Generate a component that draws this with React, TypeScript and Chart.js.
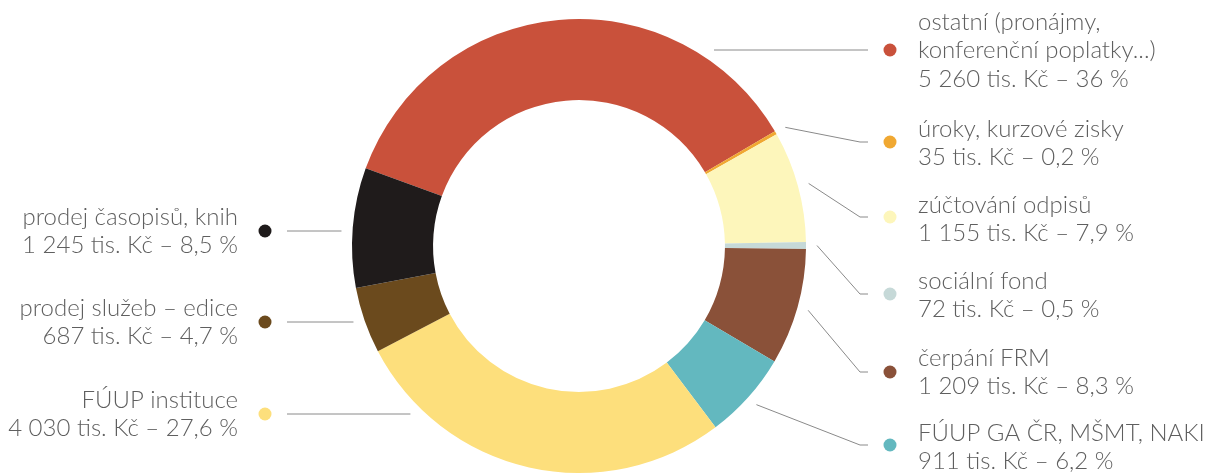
import React, { useEffect, useRef } from "react";
import { Chart, registerables } from "chart.js";

Chart.register(...registerables);

// ---- data ----
const categories: string[][] = [
  ["ostatní (pronájmy,", "konferenční poplatky...)"],
  ["úroky, kurzové zisky"],
  ["zúčtování odpisů"],
  ["sociální fond"],
  ["čerpání FRM"],
  ["FÚUP GA ČR, MŠMT, NAKI"],
  ["FÚUP instituce"],
  ["prodej služeb – edice"],
  ["prodej časopisů, knih"],
];
const values: number[] = [5260, 35, 1155, 72, 1209, 911, 4030, 687, 1245];
const valueTexts: string[] = ["5 260", "35", "1 155", "72", "1 209", "911", "4 030", "687", "1 245"];
const percentTexts: string[] = ["36", "0,2", "7,9", "0,5", "8,3", "6,2", "27,6", "4,7", "8,5"];
const colors: string[] = [
  "#c9513b",
  "#f0a832",
  "#fdf6bb",
  "#c6d9d8",
  "#8a5139",
  "#63b8bf",
  "#fddf7c",
  "#6b4a1d",
  "#1f1b1b",
];

// ---- label layout (positions only) ----
type LabelLayout = { side: "left" | "right"; dotY: number; textY: number; line: "radial" | "flat" };
const labelLayout: LabelLayout[] = [
  { side: "right", dotY: 50, textY: 22, line: "flat" },
  { side: "right", dotY: 142, textY: 129, line: "radial" },
  { side: "right", dotY: 217, textY: 205, line: "radial" },
  { side: "right", dotY: 294, textY: 281, line: "radial" },
  { side: "right", dotY: 372, textY: 358, line: "radial" },
  { side: "right", dotY: 445, textY: 433, line: "radial" },
  { side: "left", dotY: 414, textY: 400, line: "flat" },
  { side: "left", dotY: 322, textY: 308, line: "flat" },
  { side: "left", dotY: 231, textY: 217, line: "flat" },
];

const FONT = "300 24px Lato, 'DejaVu Sans', sans-serif";
const TEXT_COLOR = "#5f5f5f";
const LINE_COLOR = "#8a8a8a";
const LINE_H = 28.5;

const labelPlugin = {
  id: "sideLabels",
  afterDraw(chart: any) {
    const ctx: CanvasRenderingContext2D = chart.ctx;
    const meta = chart.getDatasetMeta(0);
    ctx.save();
    meta.data.forEach((arc: any, i: number) => {
      const L = labelLayout[i];
      const p = arc.getProps(["x", "y", "startAngle", "endAngle", "outerRadius"], true);
      const cx = p.x, cy = p.y;
      const R = p.outerRadius + 11;
      const right = L.side === "right";
      const dotX = right ? 890 : 265;
      const lineEndX = right ? 868 : 287;

      // connector
      ctx.strokeStyle = LINE_COLOR;
      ctx.lineWidth = 1;
      ctx.beginPath();
      if (L.line === "radial") {
        const mid = (p.startAngle + p.endAngle) / 2;
        ctx.moveTo(cx + Math.cos(mid) * R, cy + Math.sin(mid) * R);
        ctx.lineTo(lineEndX - 8, L.dotY);
        ctx.lineTo(lineEndX, L.dotY);
      } else {
        const dy = L.dotY - cy;
        const dx = Math.sqrt(Math.max(R * R - dy * dy, 0));
        ctx.moveTo(right ? cx + dx : cx - dx, L.dotY);
        ctx.lineTo(lineEndX, L.dotY);
      }
      ctx.stroke();

      // dot
      ctx.fillStyle = colors[i];
      ctx.beginPath();
      ctx.arc(dotX, L.dotY, 6.5, 0, Math.PI * 2);
      ctx.fill();

      // text
      ctx.fillStyle = TEXT_COLOR;
      ctx.font = FONT;
      ctx.textBaseline = "middle";
      ctx.textAlign = right ? "left" : "right";
      const tx = right ? 918 : 238;
      const lines = [...categories[i], `${valueTexts[i]} tis. Kč – ${percentTexts[i]} %`];
      lines.forEach((t, k) => ctx.fillText(t, tx, L.textY + k * LINE_H));
    });
    ctx.restore();
  },
};

export default function App() {
  const ref = useRef<HTMLCanvasElement | null>(null);
  useEffect(() => {
    document.body.style.margin = "0";
    const chart = new Chart(ref.current as HTMLCanvasElement, {
      type: "doughnut",
      data: {
        labels: categories.map((c) => c.join(" ")),
        datasets: [
          {
            data: values,
            backgroundColor: colors,
            borderWidth: 0,
            hoverOffset: 0,
          },
        ],
      },
      options: {
        responsive: false,
        animation: false,
        rotation: -70,
        cutout: "64.3%",
        layout: { padding: { left: 352, right: 412, top: 19, bottom: 1 } },
        plugins: { legend: { display: false }, tooltip: { enabled: false } },
        events: [],
      },
      plugins: [labelPlugin],
    });
    return () => chart.destroy();
  }, []);
  return (
    <div style={{ width: 1218, height: 474, background: "#fff" }}>
      <canvas ref={ref} width={1218} height={474} style={{ display: "block" }} />
    </div>
  );
}
